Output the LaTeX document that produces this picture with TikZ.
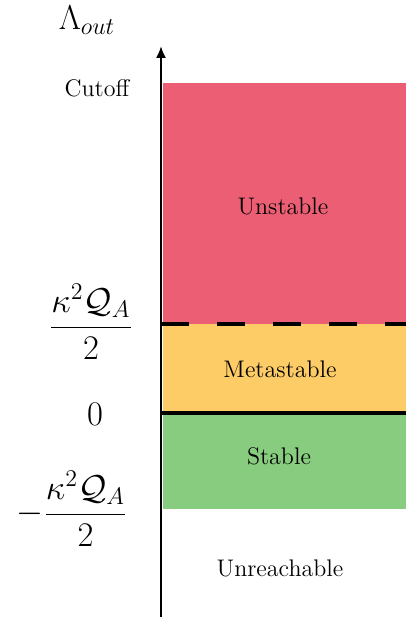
\documentclass[tikz,border=0pt]{standalone}
\usepackage{amsmath,amssymb}
\usepackage{xcolor}
\usetikzlibrary{positioning,arrows.meta}

\definecolor{unstablered}{RGB}{235,94,116}
\definecolor{metayellow}{RGB}{253,204,102}
\definecolor{stablegreen}{RGB}{136,204,127}

\begin{document}
\begin{tikzpicture}[x=0.5pt, y=0.5pt]
  \useasboundingbox (0,0) rectangle (406,620);

  % Regions
  \fill[unstablered] (163, 296) rectangle (406, 537);
  \fill[metayellow] (163, 207) rectangle (406, 296);
  \fill[stablegreen] (163, 111) rectangle (406, 207);

  % Boundaries
  \coordinate (dashL) at (161, 296);
  \coordinate (dashR) at (406, 296);
  \coordinate (zeroL) at (161, 207);
  \coordinate (zeroR) at (406, 207);
  \draw[line width=2pt, dash pattern=on 14pt off 14pt] (dashL) -- (dashR);
  \draw[line width=2pt] (zeroL) -- (zeroR);

  % Axis
  \coordinate (axbot) at (161, 3);
  \coordinate (axtop) at (161, 574);
  \draw[line width=1pt, -{Latex[length=6pt, width=5pt]}] (axbot) -- (axtop);
  \node (lam) at (87, 600) {\LARGE $\Lambda_{out}$};

  % Axis labels
  \node (cutoff) at (97, 532) {\large Cutoff};
  \node (upper) at (91, 298) {\LARGE $\dfrac{\kappa^2\mathcal{Q}_A}{2}$};
  \node (zero) at (95, 206) {\LARGE $0$};
  \node (lower) at (72, 111) {\LARGE $-\dfrac{\kappa^2\mathcal{Q}_A}{2}$};

  % Region labels
  \node (unstable) at (283, 414) {\large Unstable};
  \node (meta) at (280, 251) {\large Metastable};
  \node (stable) at (279, 164) {\large Stable};
  \node (unreach) at (280, 52) {\large Unreachable};
\end{tikzpicture}
\end{document}
